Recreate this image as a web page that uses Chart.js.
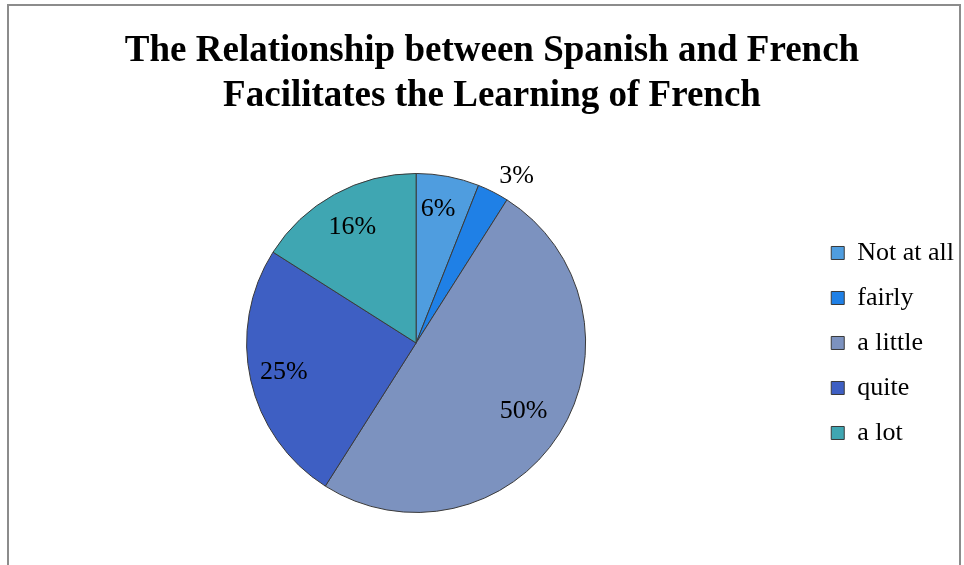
<!DOCTYPE html>
<html>
<head>
<meta charset="utf-8">
<script src="https://cdn.jsdelivr.net/npm/chart.js@4"></script>
<style>
	body { margin: 0; background: #fff; }
	.frame { position: absolute; left: 7px; top: 4px; width: 950px; height: 620px; border: 2px solid #8c8c8c; }
	.chart { position: absolute; left: 0; top: 0; width: 964px; height: 565px; }
</style>
</head>
<body>
<div class="frame"></div>
<div class="chart"><canvas id="chart-pie"></canvas></div>
<script>
var labels = ['Not at all', 'fairly', 'a little', 'quite', 'a lot'];
var values = [6, 3, 50, 25, 16];
var pctLabels = ['6%', '3%', '50%', '25%', '16%'];
var colors = ['#4f9ddf', '#1f80e6', '#7c92bf', '#3e5fc3', '#3fa6b2'];

var serif = '"Liberation Serif", "Times New Roman", serif';

// label placement: distance as part of radius, small turn in degrees
var labelPlacement = {
	dist: [0.8, 1.15, 0.75, 0.8, 0.78],
	turn: [-1.5, 4, 0, 0, 0]
};

var pieLabels = {
	id: 'pieLabels',
	afterDatasetsDraw: function(chart) {
		var ctx = chart.ctx;
		var meta = chart.getDatasetMeta(0);
		ctx.save();
		ctx.font = '26px ' + serif;
		ctx.fillStyle = '#000';
		ctx.textAlign = 'center';
		ctx.textBaseline = 'middle';
		meta.data.forEach(function(arc, i) {
			var p = arc.getProps(['x', 'y', 'startAngle', 'endAngle', 'outerRadius'], true);
			var mid = (p.startAngle + p.endAngle) / 2 + labelPlacement.turn[i] * Math.PI / 180;
			var r = p.outerRadius * labelPlacement.dist[i];
			ctx.fillText(pctLabels[i], p.x + Math.cos(mid) * r, p.y + Math.sin(mid) * r);
		});
		ctx.restore();
	}
};

var ctx = document.getElementById('chart-pie').getContext('2d');
var myChart = new Chart(ctx, {
	type: 'pie',
	data: {
		labels: labels,
		datasets: [{
			data: values,
			backgroundColor: colors,
			borderColor: '#3a3a3a',
			borderWidth: 1
		}]
	},
	options: {
		responsive: true,
		maintainAspectRatio: false,
		animation: false,
		layout: { padding: { left: 20, right: 0, top: 0, bottom: 52 } },
		plugins: {
			title: {
				display: true,
				text: ['The Relationship between Spanish and French', 'Facilitates the Learning of French'],
				color: '#000',
				font: { family: serif, size: 37, weight: 'bold', lineHeight: 1.216 },
				padding: { top: 29, bottom: 54 }
			},
			legend: {
				position: 'right',
				align: 'center',
				fullSize: false,
				labels: {
					color: '#000',
					font: { family: serif, size: 26 },
					boxWidth: 13,
					boxHeight: 13,
					padding: 19
				}
			},
			tooltip: { enabled: false }
		}
	},
	plugins: [pieLabels]
});
</script>
</body>
</html>
